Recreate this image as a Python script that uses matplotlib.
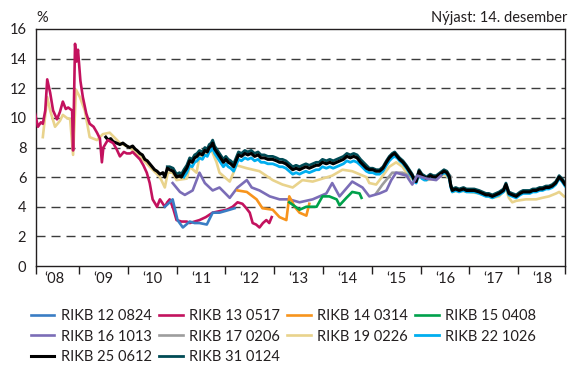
import matplotlib
matplotlib.use("Agg")
import matplotlib.pyplot as plt

# Ávöxtunarkrafa óverðtryggðra ríkisbréfa (%), tími í árum
t_12_0824 = [2010.76, 2010.86, 2010.92, 2011.02, 2011.13, 2011.27, 2011.37, 2011.47, 2011.62, 2011.74, 2011.88, 2012.09, 2012.19]
v_12_0824 = [4.0, 4.3, 4.5, 3.1, 2.6, 3.0, 2.9, 2.9, 2.8, 3.6, 3.6, 3.8, 3.9]

t_13_0517 = [2008.10, 2008.16, 2008.22, 2008.26, 2008.31, 2008.35, 2008.41, 2008.47, 2008.55, 2008.61,
             2008.67, 2008.73, 2008.78, 2008.86, 2008.88, 2008.92, 2008.95, 2008.98, 2009.03, 2009.08,
             2009.15, 2009.22, 2009.30, 2009.37, 2009.43, 2009.47, 2009.50, 2009.59, 2009.70, 2009.77,
             2009.84, 2009.92, 2009.98, 2010.05, 2010.10, 2010.19, 2010.25, 2010.32, 2010.39, 2010.45,
             2010.51, 2010.60, 2010.66, 2010.72, 2010.76, 2010.81, 2010.86, 2010.93, 2011.00, 2011.10,
             2011.21, 2011.27, 2011.37, 2011.47, 2011.60, 2011.74, 2011.88, 2012.03, 2012.15, 2012.25,
             2012.35, 2012.43, 2012.50, 2012.56, 2012.63, 2012.70, 2012.77, 2012.84, 2012.90, 2012.95]
v_13_0517 = [10.3, 9.4, 9.7, 9.6, 10.5, 12.6, 11.7, 10.5, 9.9, 10.4,
             11.1, 10.6, 10.7, 10.5, 7.8, 15.0, 13.8, 14.6, 12.5, 11.4,
             10.3, 9.6, 9.4, 9.0, 8.6, 7.0, 8.0, 8.5, 8.3, 7.9,
             7.4, 7.7, 7.6, 7.6, 7.7, 7.4, 7.2, 6.8, 6.3, 5.6,
             4.5, 4.0, 4.5, 4.2, 4.0, 4.3, 4.5, 3.9, 3.1, 3.0,
             3.0, 2.9, 3.0, 3.1, 3.3, 3.6, 3.7, 3.8, 4.0, 4.3,
             4.2, 3.9, 3.6, 2.9, 2.8, 2.6, 2.9, 3.1, 2.9, 3.3]

t_14_0314 = [2012.25, 2012.44, 2012.64, 2012.76, 2012.97, 2013.11, 2013.25, 2013.31, 2013.42, 2013.52, 2013.66, 2013.72]
v_14_0314 = [5.1, 5.0, 4.5, 3.9, 3.8, 3.3, 3.1, 4.7, 4.0, 3.6, 3.4, 4.2]

t_15_0408 = [2013.31, 2013.52, 2013.66, 2013.87, 2013.99, 2014.13, 2014.28, 2014.34, 2014.48, 2014.60, 2014.75, 2014.79]
v_15_0408 = [4.3, 3.8, 4.0, 4.0, 4.7, 4.7, 4.5, 4.1, 4.6, 5.0, 4.9, 4.6]

t_16_1013 = [2010.92, 2011.07, 2011.17, 2011.33, 2011.47, 2011.58, 2011.74, 2011.88, 2012.09, 2012.25,
             2012.44, 2012.54, 2012.70, 2012.91, 2013.11, 2013.31, 2013.52, 2013.79, 2014.07, 2014.19,
             2014.34, 2014.60, 2014.81, 2014.95, 2015.16, 2015.30, 2015.40, 2015.50, 2015.71, 2015.83,
             2015.93, 2016.12, 2016.32, 2016.42]
v_16_1013 = [5.6, 5.0, 4.8, 5.1, 6.3, 5.6, 5.1, 5.3, 4.6, 5.3,
             5.8, 5.3, 5.1, 4.7, 4.5, 4.5, 4.3, 4.5, 4.9, 5.6,
             4.7, 5.7, 5.3, 4.7, 4.9, 5.1, 5.8, 6.3, 6.1, 5.5,
             6.1, 5.9, 5.8, 6.1]

t_17_0206 = [2015.09, 2015.22, 2015.42, 2015.63, 2015.83, 2016.03, 2016.32, 2016.53, 2016.63]
v_17_0206 = [4.9, 5.5, 6.3, 6.3, 6.0, 6.0, 5.9, 6.4, 6.0]

t_19_0226 = [2008.26, 2008.35, 2008.41, 2008.51, 2008.61, 2008.67, 2008.75, 2008.82, 2008.88, 2008.94,
             2009.02, 2009.12, 2009.22, 2009.37, 2009.49, 2009.63, 2009.84, 2010.04, 2010.25, 2010.45,
             2010.66, 2010.76, 2010.82, 2010.92, 2011.00, 2011.21, 2011.27, 2011.41, 2011.47, 2011.58,
             2011.72, 2011.82, 2011.88, 2012.09, 2012.23, 2012.44, 2012.70, 2012.97, 2013.17, 2013.38,
             2013.58, 2013.79, 2013.99, 2014.19, 2014.40, 2014.60, 2014.89, 2014.95, 2015.09, 2015.16,
             2015.36, 2015.50, 2015.63, 2015.77, 2015.91, 2015.97, 2016.12, 2016.32, 2016.48, 2016.59,
             2016.65, 2016.79, 2017.00, 2017.20, 2017.47, 2017.61, 2017.75, 2017.81, 2017.88, 2017.96,
             2018.16, 2018.37, 2018.49, 2018.63, 2018.78, 2018.84, 2018.94]
v_19_0226 = [8.7, 11.4, 10.5, 9.4, 9.8, 10.2, 10.0, 9.9, 7.5, 11.9,
             11.4, 10.5, 8.7, 8.5, 8.9, 9.0, 8.3, 8.0, 7.4, 6.7,
             6.0, 5.3, 6.3, 6.3, 5.8, 5.9, 6.7, 6.3, 7.4, 7.5,
             7.8, 7.0, 6.3, 5.7, 6.8, 6.6, 6.4, 5.8, 5.5, 5.3,
             5.8, 5.7, 5.9, 6.1, 6.5, 6.4, 6.0, 5.6, 5.5, 5.8,
             6.7, 7.0, 6.7, 6.0, 5.7, 6.2, 5.8, 5.9, 6.2, 5.9,
             5.0, 5.1, 5.0, 4.9, 4.6, 4.7, 5.2, 4.6, 4.3, 4.4,
             4.5, 4.5, 4.6, 4.7, 4.9, 5.0, 4.7]

t_25_0612 = [2009.55, 2009.60, 2009.65, 2009.70, 2009.77, 2009.84, 2009.90, 2009.98, 2010.04, 2010.10,
             2010.15, 2010.19, 2010.25, 2010.30, 2010.35, 2010.40, 2010.45, 2010.50, 2010.55, 2010.60,
             2010.66, 2010.72, 2010.76, 2010.81, 2010.86, 2010.93, 2011.00, 2011.06, 2011.10, 2011.15,
             2011.21, 2011.27, 2011.32, 2011.37, 2011.42, 2011.47, 2011.53, 2011.58, 2011.63, 2011.67,
             2011.71, 2011.74, 2011.78, 2011.84, 2011.90, 2011.96, 2012.01, 2012.06, 2012.11, 2012.17,
             2012.22, 2012.27, 2012.33, 2012.40, 2012.46, 2012.53, 2012.60, 2012.67, 2012.73, 2012.80,
             2012.87, 2012.97, 2013.05, 2013.11, 2013.17, 2013.24, 2013.31, 2013.38, 2013.45, 2013.52,
             2013.58, 2013.65, 2013.72, 2013.79, 2013.86, 2013.92, 2013.99, 2014.07, 2014.14, 2014.21,
             2014.28, 2014.35, 2014.42, 2014.49, 2014.56, 2014.63, 2014.70, 2014.77, 2014.83, 2014.89,
             2014.95, 2015.02, 2015.09, 2015.16, 2015.23, 2015.30, 2015.36, 2015.42, 2015.47, 2015.52,
             2015.57, 2015.64, 2015.71, 2015.77, 2015.83, 2015.87, 2015.91, 2015.97, 2016.03, 2016.08,
             2016.12, 2016.20, 2016.26, 2016.32, 2016.40, 2016.48, 2016.54, 2016.59, 2016.62, 2016.65,
             2016.72, 2016.79, 2016.88, 2016.94, 2017.00, 2017.10, 2017.20, 2017.27, 2017.34, 2017.40,
             2017.47, 2017.54, 2017.61, 2017.70, 2017.75, 2017.78, 2017.81, 2017.88, 2017.96, 2018.04,
             2018.10, 2018.16, 2018.24, 2018.30, 2018.37, 2018.44, 2018.50, 2018.57, 2018.63, 2018.70,
             2018.77, 2018.84, 2018.90, 2018.96]
v_25_0612 = [8.7, 8.5, 8.6, 8.4, 8.3, 8.2, 8.3, 8.1, 8.0, 8.1,
             7.9, 7.8, 7.6, 7.5, 7.2, 7.1, 6.9, 6.7, 6.5, 6.4,
             6.2, 6.3, 6.0, 6.6, 6.5, 6.4, 6.0, 6.1, 6.0, 6.3,
             6.6, 7.1, 7.0, 7.3, 7.4, 7.6, 7.5, 7.8, 7.7, 8.0,
             8.1, 8.3, 7.9, 7.6, 7.3, 7.0, 7.2, 7.0, 6.9, 6.7,
             7.1, 7.5, 7.4, 7.6, 7.5, 7.6, 7.4, 7.5, 7.3, 7.3,
             7.2, 7.2, 7.1, 7.0, 7.0, 6.9, 6.7, 6.5, 6.6, 6.5,
             6.6, 6.7, 6.6, 6.7, 6.8, 6.8, 7.0, 6.9, 7.0, 6.9,
             7.0, 7.1, 7.2, 7.4, 7.3, 7.4, 7.3, 7.0, 6.8, 6.6,
             6.5, 6.5, 6.4, 6.4, 6.6, 7.0, 7.3, 7.5, 7.6, 7.4,
             7.2, 7.0, 6.7, 6.4, 6.1, 5.8, 5.7, 6.4, 6.1, 6.0,
             5.9, 6.1, 6.0, 6.0, 6.2, 6.4, 6.3, 6.0, 5.4, 5.1,
             5.2, 5.1, 5.2, 5.1, 5.1, 5.1, 5.0, 4.9, 4.8, 4.8,
             4.7, 4.8, 4.9, 5.1, 5.5, 5.2, 4.9, 4.8, 4.7, 4.9,
             5.0, 5.0, 5.0, 5.1, 5.1, 5.2, 5.2, 5.3, 5.3, 5.4,
             5.6, 6.0, 5.8, 5.5]

# lengri bréfin eru skráð á sömu dögum og RIKB 25
t_31_0124 = [t for t in t_25_0612 if t >= 2010.81]
v_31_0124 = [6.7, 6.7, 6.6, 6.2, 6.3, 6.2, 6.5,
             6.8, 7.3, 7.2, 7.5, 7.6, 7.8, 7.7, 8.0, 7.9, 8.2,
             8.3, 8.5, 8.1, 7.8, 7.5, 7.2, 7.4, 7.2, 7.1, 6.9,
             7.3, 7.7, 7.6, 7.8, 7.7, 7.8, 7.6, 7.7, 7.5, 7.5,
             7.4, 7.4, 7.3, 7.2, 7.2, 7.1, 6.9, 6.7, 6.8, 6.7,
             6.8, 6.9, 6.8, 6.9, 7.0, 7.0, 7.2, 7.1, 7.2, 7.1,
             7.2, 7.3, 7.4, 7.6, 7.5, 7.6, 7.5, 7.2, 7.0, 6.8,
             6.6, 6.6, 6.5, 6.5, 6.7, 7.1, 7.4, 7.6, 7.7, 7.5,
             7.3, 7.1, 6.8, 6.5, 6.2, 5.9, 5.8, 6.5, 6.2, 6.1,
             6.0, 6.2, 6.1, 6.1, 6.3, 6.5, 6.4, 6.1, 5.5, 5.2,
             5.3, 5.2, 5.3, 5.2, 5.2, 5.2, 5.1, 5.0, 4.9, 4.9,
             4.8, 4.9, 5.0, 5.2, 5.6, 5.3, 5.0, 4.9, 4.8, 5.0,
             5.1, 5.1, 5.1, 5.2, 5.2, 5.3, 5.3, 5.4, 5.4, 5.5,
             5.7, 6.1, 5.9, 5.6]

t_22_1026 = [t for t in t_25_0612 if t >= 2011.15]
v_22_1026 = [6.0,
             6.3, 6.8, 6.7, 7.0, 7.1, 7.3, 7.2, 7.5, 7.4, 7.7,
             7.8, 8.0, 7.6, 7.3, 7.0, 6.7, 6.9, 6.7, 6.6, 6.4,
             6.8, 7.2, 7.1, 7.3, 7.2, 7.3, 7.1, 7.2, 7.0, 7.0,
             6.9, 6.9, 6.8, 6.7, 6.7, 6.6, 6.4, 6.2, 6.3, 6.2,
             6.3, 6.4, 6.3, 6.4, 6.5, 6.5, 6.7, 6.6, 6.7, 6.6,
             6.7, 6.8, 6.9, 7.1, 7.0, 7.1, 7.0, 6.8, 6.6, 6.4,
             6.3, 6.3, 6.2, 6.2, 6.4, 6.8, 7.1, 7.3, 7.4, 7.3,
             7.1, 6.9, 6.6, 6.3, 6.0, 5.7, 5.6, 6.2, 5.9, 5.8,
             5.8, 6.0, 5.9, 5.9, 6.1, 6.3, 6.2, 5.9, 5.3, 5.0,
             5.1, 5.0, 5.1, 5.0, 5.0, 5.0, 4.9, 4.8, 4.7, 4.7,
             4.6, 4.7, 4.8, 5.0, 5.3, 5.1, 4.8, 4.7, 4.6, 4.8,
             4.9, 4.9, 4.9, 5.0, 5.0, 5.1, 5.1, 5.2, 5.2, 5.3,
             5.5, 5.9, 5.7, 5.4]

# (heiti, tími, gildi, litur, breidd, röð)
series = [
    ("RIKB 12 0824", t_12_0824, v_12_0824, "#3a7dc4", 1.9, 9),
    ("RIKB 13 0517", t_13_0517, v_13_0517, "#c3125e", 1.9, 8),
    ("RIKB 14 0314", t_14_0314, v_14_0314, "#f7941d", 1.9, 10),
    ("RIKB 15 0408", t_15_0408, v_15_0408, "#00a14b", 1.9, 10),
    ("RIKB 16 1013", t_16_1013, v_16_1013, "#7b6db7", 1.9, 7),
    ("RIKB 17 0206", t_17_0206, v_17_0206, "#9d9d9d", 1.9, 3),
    ("RIKB 19 0226", t_19_0226, v_19_0226, "#e9d38c", 1.9, 2),
    ("RIKB 22 1026", t_22_1026, v_22_1026, "#00aeef", 2.0, 4),
    ("RIKB 25 0612", t_25_0612, v_25_0612, "#000000", 2.2, 6),
    ("RIKB 31 0124", t_31_0124, v_31_0124, "#004b55", 2.0, 5),
]

years = list(range(2008, 2019))
year_labels = ["\u2018" + str(y)[2:] for y in years]

plt.rcParams["font.family"] = ["Lato", "DejaVu Sans"]
plt.rcParams["text.color"] = "#231f20"

fig = plt.figure(figsize=(5.74, 3.65), dpi=100)
ax = fig.add_axes([36 / 574, 99 / 365, 529 / 574, 237 / 365])

for name, t, v, c, lw, z in series:
    ax.plot(t, v, color=c, lw=lw, label=name, zorder=z, solid_joinstyle="round")

ax.set_xlim(2008.12, 2018.96)
ax.set_ylim(0, 16)
ax.set_yticks(range(0, 17, 2))
for y in range(2, 16, 2):
    ax.axhline(y, color="#3c3c3c", lw=1.0, ls=(0, (6.5, 4.3)), zorder=1)

# árskil sem strik niður, ártöl á miðju ári
ax.set_xticks([2008.12] + years[1:] + [2018.96])
ax.set_xticklabels([])
ax.set_xticks([y + 0.5 for y in years], minor=True)
ax.set_xticklabels(year_labels, minor=True)
ax.tick_params(axis="x", which="major", direction="out", length=6, width=1, color="#231f20")
ax.tick_params(axis="x", which="minor", length=0, pad=4, labelsize=10.5, labelcolor="#231f20")
ax.tick_params(axis="y", length=0, pad=7, labelsize=10.5, labelcolor="#231f20")
for s in ax.spines.values():
    s.set_linewidth(1.0)
    s.set_color("#231f20")

fig.text(36 / 574, 0.952, "%", fontsize=10.5, ha="left", va="center")
fig.text(567 / 574, 0.952, "Nýjast: 14. desember", fontsize=10.5, ha="right", va="center")

# skýringar raðast eftir línum, fjórir dálkar
handles, labels = ax.get_legend_handles_labels()
order = [0, 4, 8, 1, 5, 9, 2, 6, 3, 7]
fig.legend([handles[i] for i in order], [labels[i] for i in order],
           loc="upper left", bbox_to_anchor=(31 / 574, 1 - 309 / 365),
           ncol=4, frameon=False, fontsize=10.5, handlelength=1.6, handletextpad=0.45,
           columnspacing=0.5, labelspacing=0.45, borderpad=0, borderaxespad=0)

fig.savefig("out.png", dpi=100)
